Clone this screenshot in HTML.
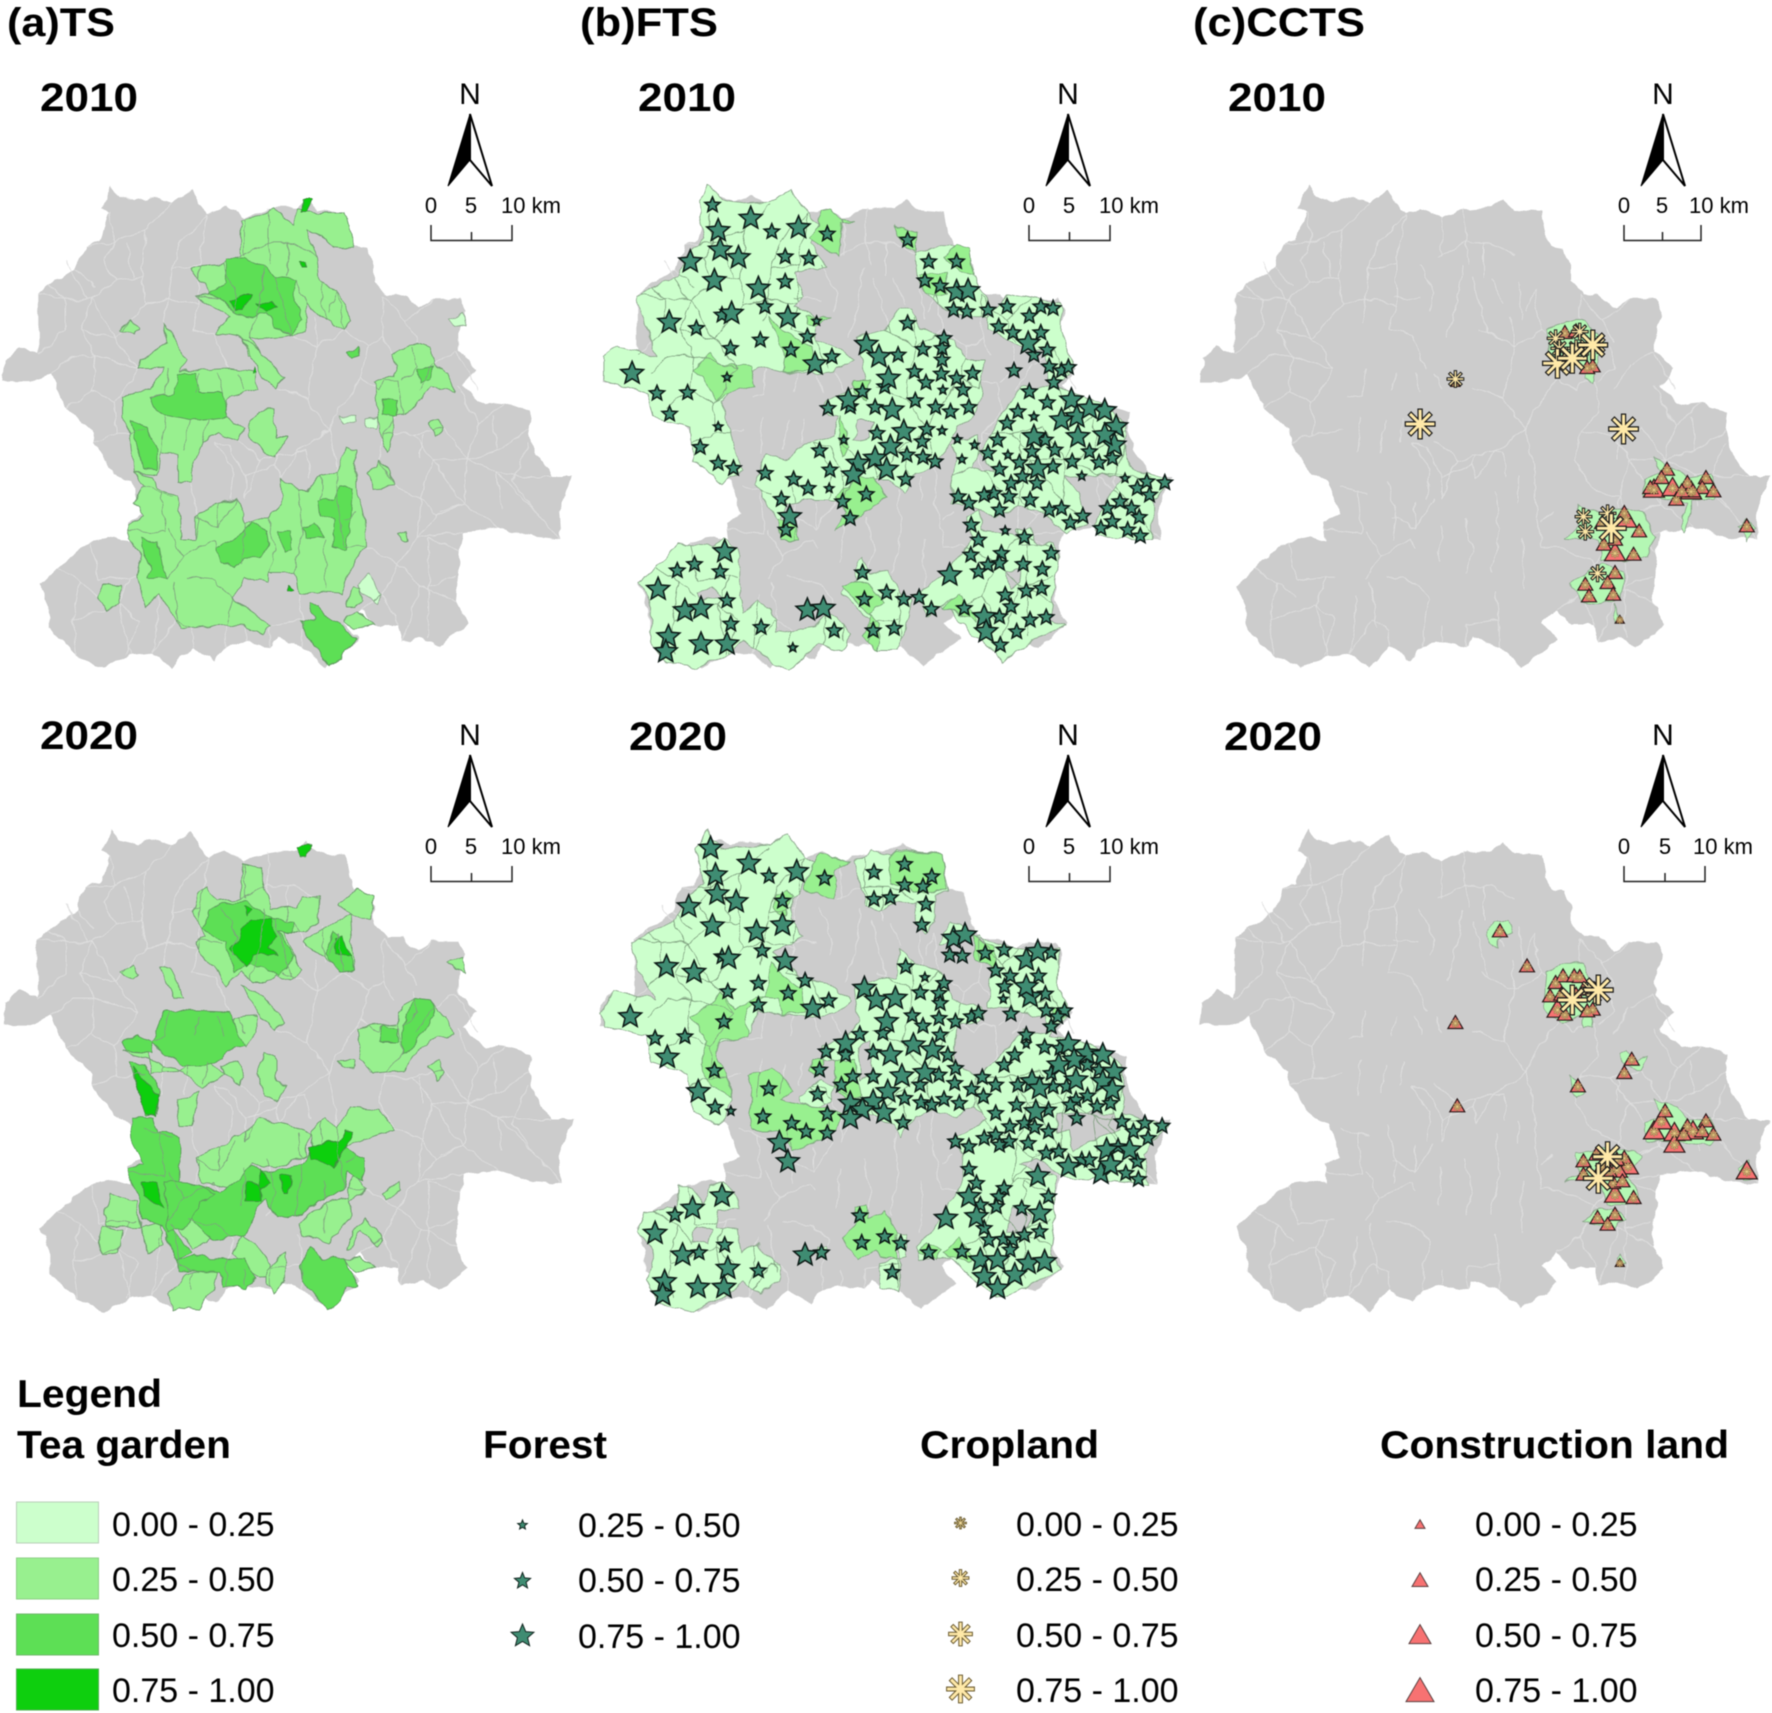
<!DOCTYPE html>
<html lang="en">
<head>
<meta charset="utf-8">
<title>TS, FTS and CCTS maps 2010 and 2020</title>
<style>
html,body{margin:0;padding:0;background:#fff;width:1772px;height:1713px;overflow:hidden}
svg{display:block;position:absolute;left:0;top:0;filter:blur(0.55px)}
text{font-family:"Liberation Sans",sans-serif;fill:#000}
.title{font-weight:bold;font-size:40px}
.year{font-weight:bold;font-size:40px}
.n{font-size:30px;text-anchor:middle}
.sc{font-size:22px}
.m{text-anchor:middle}
.lh{font-weight:bold;font-size:39px}
.lv{font-size:34px}
</style>
</head>
<body>
<svg id="chart" xmlns="http://www.w3.org/2000/svg" width="1772" height="1713" viewBox="0 0 1772 1713">
<defs>
<filter id="rough-edge" filterUnits="userSpaceOnUse" x="0" y="0" width="1772" height="1713">
<feTurbulence type="fractalNoise" baseFrequency="0.07" numOctaves="2" seed="4" result="noise"/>
<feDisplacementMap in="SourceGraphic" in2="noise" scale="8" xChannelSelector="R" yChannelSelector="G"/>
</filter>
</defs>
<rect width="1772" height="1713" fill="#fff"/>
<g id="maps"></g>

<text class="title" x="7" y="36" textLength="108" lengthAdjust="spacingAndGlyphs">(a)TS</text>
<text class="title" x="580" y="36" textLength="138" lengthAdjust="spacingAndGlyphs">(b)FTS</text>
<text class="title" x="1193" y="36" textLength="172" lengthAdjust="spacingAndGlyphs">(c)CCTS</text>

<text class="year" x="40" y="111" textLength="98" lengthAdjust="spacingAndGlyphs">2010</text>
<text class="year" x="638" y="111" textLength="98" lengthAdjust="spacingAndGlyphs">2010</text>
<text class="year" x="1228" y="111" textLength="98" lengthAdjust="spacingAndGlyphs">2010</text>
<text class="year" x="40" y="749" textLength="98" lengthAdjust="spacingAndGlyphs">2020</text>
<text class="year" x="629" y="750" textLength="98" lengthAdjust="spacingAndGlyphs">2020</text>
<text class="year" x="1224" y="750" textLength="98" lengthAdjust="spacingAndGlyphs">2020</text>

<g>
<text class="n" x="470" y="104">N</text>
<polygon points="470,114 448,186 470,160" fill="#000" stroke="#000" stroke-width="1"/><polygon points="470,114 492,186 470,160" fill="#fff" stroke="#000" stroke-width="2"/>
<text class="sc m" x="431" y="213">0</text><text class="sc m" x="471" y="213">5</text><text class="sc" x="501" y="213">10 km</text>
<path d="M431,225V240.500H512V225M471.500,232V240.500" fill="none" stroke="#222" stroke-width="1.500"/>
</g>
<g transform="translate(0,641)">
<text class="n" x="470" y="104">N</text>
<polygon points="470,114 448,186 470,160" fill="#000" stroke="#000" stroke-width="1"/><polygon points="470,114 492,186 470,160" fill="#fff" stroke="#000" stroke-width="2"/>
<text class="sc m" x="431" y="213">0</text><text class="sc m" x="471" y="213">5</text><text class="sc" x="501" y="213">10 km</text>
<path d="M431,225V240.500H512V225M471.500,232V240.500" fill="none" stroke="#222" stroke-width="1.500"/>
</g>
<g transform="translate(598,0)">
<text class="n" x="470" y="104">N</text>
<polygon points="470,114 448,186 470,160" fill="#000" stroke="#000" stroke-width="1"/><polygon points="470,114 492,186 470,160" fill="#fff" stroke="#000" stroke-width="2"/>
<text class="sc m" x="431" y="213">0</text><text class="sc m" x="471" y="213">5</text><text class="sc" x="501" y="213">10 km</text>
<path d="M431,225V240.500H512V225M471.500,232V240.500" fill="none" stroke="#222" stroke-width="1.500"/>
</g>
<g transform="translate(598,641)">
<text class="n" x="470" y="104">N</text>
<polygon points="470,114 448,186 470,160" fill="#000" stroke="#000" stroke-width="1"/><polygon points="470,114 492,186 470,160" fill="#fff" stroke="#000" stroke-width="2"/>
<text class="sc m" x="431" y="213">0</text><text class="sc m" x="471" y="213">5</text><text class="sc" x="501" y="213">10 km</text>
<path d="M431,225V240.500H512V225M471.500,232V240.500" fill="none" stroke="#222" stroke-width="1.500"/>
</g>
<g transform="translate(1193,0)">
<text class="n" x="470" y="104">N</text>
<polygon points="470,114 448,186 470,160" fill="#000" stroke="#000" stroke-width="1"/><polygon points="470,114 492,186 470,160" fill="#fff" stroke="#000" stroke-width="2"/>
<text class="sc m" x="431" y="213">0</text><text class="sc m" x="469" y="213">5</text><text class="sc" x="496" y="213">10 km</text>
<path d="M431,225V240.500H508V225M469.500,232V240.500" fill="none" stroke="#222" stroke-width="1.500"/>
</g>
<g transform="translate(1193,641)">
<text class="n" x="470" y="104">N</text>
<polygon points="470,114 448,186 470,160" fill="#000" stroke="#000" stroke-width="1"/><polygon points="470,114 492,186 470,160" fill="#fff" stroke="#000" stroke-width="2"/>
<text class="sc m" x="431" y="213">0</text><text class="sc m" x="472" y="213">5</text><text class="sc" x="500" y="213">10 km</text>
<path d="M431,225V240.500H512V225M472,232V240.500" fill="none" stroke="#222" stroke-width="1.500"/>
</g>

<g id="legend">
<text class="lh" x="17" y="1407" textLength="145" lengthAdjust="spacingAndGlyphs">Legend</text>
<text class="lh" x="17" y="1458" textLength="214" lengthAdjust="spacingAndGlyphs">Tea garden</text>
<text class="lh" x="483" y="1458" textLength="124" lengthAdjust="spacingAndGlyphs">Forest</text>
<text class="lh" x="920" y="1458" textLength="179" lengthAdjust="spacingAndGlyphs">Cropland</text>
<text class="lh" x="1380" y="1458" textLength="349" lengthAdjust="spacingAndGlyphs">Construction land</text>

<rect x="16.500" y="1502" width="82" height="41" fill="#ccffcc" stroke="#b8cfb8" stroke-width="1"/>
<rect x="16.500" y="1558" width="82" height="41" fill="#98f08f" stroke="#8ccf85" stroke-width="1"/>
<rect x="16.500" y="1614" width="82" height="41" fill="#5ddf55" stroke="#6fb86a" stroke-width="1"/>
<rect x="16.500" y="1669" width="82" height="41" fill="#0ecf0e" stroke="#4fae4f" stroke-width="1"/>
<text class="lv" x="112" y="1536">0.00 - 0.25</text>
<text class="lv" x="112" y="1591">0.25 - 0.50</text>
<text class="lv" x="112" y="1647">0.50 - 0.75</text>
<text class="lv" x="112" y="1702">0.75 - 1.00</text>

<text class="lv" x="578" y="1537">0.25 - 0.50</text>
<text class="lv" x="578" y="1592">0.50 - 0.75</text>
<text class="lv" x="578" y="1648">0.75 - 1.00</text>

<text class="lv" x="1016" y="1536">0.00 - 0.25</text>
<text class="lv" x="1016" y="1591">0.25 - 0.50</text>
<text class="lv" x="1016" y="1647">0.50 - 0.75</text>
<text class="lv" x="1016" y="1702">0.75 - 1.00</text>

<text class="lv" x="1475" y="1536">0.00 - 0.25</text>
<text class="lv" x="1475" y="1591">0.25 - 0.50</text>
<text class="lv" x="1475" y="1647">0.50 - 0.75</text>
<text class="lv" x="1475" y="1702">0.75 - 1.00</text>
</g>
</svg>

<script>
// ---- Shared base map, in map units ----
var countyOutline = [265,480,290,430,310,455,355,465,400,455,450,470,500,440,520,470,545,495,590,480,640,505,690,485,730,480,770,480,800,460,830,485,900,490,910,540,925,570,960,575,975,610,975,645,1010,680,1050,680,1090,710,1130,690,1200,690,1215,720,1195,770,1195,810,1245,850,1205,890,1265,935,1320,930,1385,950,1380,990,1395,1040,1440,1100,1495,1100,1460,1180,1465,1245,1400,1240,1300,1215,1210,1225,1200,1270,1190,1390,1220,1440,1150,1490,1100,1470,1050,1480,1040,1440,980,1440,940,1405,900,1435,940,1475,900,1500,850,1535,790,1490,720,1470,705,1490,640,1480,590,1490,560,1520,500,1490,450,1540,400,1505,340,1510,270,1540,200,1510,130,1450,130,1400,105,1350,150,1310,240,1250,300,1240,340,1250,335,1205,375,1185,345,1110,300,1090,245,1020,240,990,175,940,135,860,80,880,10,880,15,830,50,800,100,820,100,680,130,660,200,620,225,565,260,555,285,490];
var townBoundaries = [
[285,490,300,560,270,600,300,650,240,690,210,760,250,820,240,900,300,930,305,1000],[100,680,170,690,240,690],[135,860,190,820,250,820],[300,650,370,640,380,700,440,690,450,620,520,610],[300,560,380,530,450,470],[380,530,370,640],[450,620,470,560,545,495],[210,760,300,780,345,735],[300,930,360,850],[440,690,430,745],[520,700,500,760,560,770],[730,1050,800,1040,810,1100],[500,1110,520,1200,510,1245],[560,1020,610,1080,600,1150],[620,1015,680,1060,640,1150],[750,900,800,920,830,800,820,730],[800,920,860,990,780,1040,730,1105],[860,990,880,1090],[900,760,960,800,945,870,990,900],[945,870,880,950,860,990],[1000,680,1000,780,1025,820],[1135,840,1190,810],[1195,890,1250,980,1220,1060,1300,1090,1380,1100,1440,1100],[1220,1060,1210,1160,1300,1215],[1160,985,1220,1060],[1080,1000,1130,1060,1210,1160],[1030,1120,1100,1150,1130,1060],[1100,1150,1090,1240,1040,1300,1100,1350,1190,1390],[1090,1240,1210,1225],[1040,1300,950,1260],[1100,1350,1050,1480],[1000,1370,1040,1440],[1380,990,1300,1040,1220,1060],[150,1310,210,1340,190,1430,200,1510],[210,1340,255,1380],[240,1250,260,1340],[310,1395,340,1510],[460,1430,400,1505],[640,1445,640,1480],[705,1440,790,1430],[500,1450,500,1490],[780,1365,790,1430],[630,590,700,560,770,560,830,590],[700,480,700,560,710,610],[750,560,750,640],[640,505,640,590],[580,610,620,680,610,720],[690,615,680,700,650,780],[720,640,760,770],[770,645,800,700],[510,685,580,690],[840,650,850,740],[880,670,860,720],[440,850,430,910,395,915],[520,860,510,905],[570,860,585,905],[620,860,640,900],[495,970,480,1040],[430,960,420,1045],[540,965,530,1020],[380,990,340,1000],[375,1120,450,1140],[420,1130,430,1230,335,1220],[440,1220,480,1280,440,1335],[480,1280,560,1245],[490,1330,560,1340,610,1380],[560,1245,570,1265],[640,1210,630,1300],[510,1190,570,1220,620,1150],[570,1160,570,1220],[700,1190,720,1270,700,1320],[780,1130,790,1220,770,1320],[850,1240,850,1360],[840,1100,840,1155],[880,1090,880,1150,900,1260],[930,1180,900,1200],[450,1340,470,1450],[1000,880,1040,880,1050,950,1000,1000],[1080,800,1090,850,1050,880],[1130,840,1090,900],[590,1440,610,1380],[1100,1000,1100,1060],[600,1030,640,1100,720,1070],[1290,960,1300,1040],[1380,1020,1340,1110,1400,1180],[1300,1090,1310,1170],[200,620,250,660],[130,660,170,690],[330,1510,360,1430,310,1395],[100,820,170,760],[170,600,230,690],[1150,1180,1210,1160],[1120,1240,1120,1470],[350,640,330,560],
[1000,680,1060,740,1130,690],[1060,740,1090,790],[1190,810,1250,900],[1250,980,1320,930],[1130,1060,1220,1060],[1210,1160,1140,1190,1100,1150],[1300,1090,1400,1180,1465,1245],[1090,1240,1140,1190],[1120,1240,1200,1270],[1120,1350,1190,1330],[1040,1300,1000,1370,940,1405],[950,1260,900,1260],[1000,1000,1080,1000,1160,985],[1000,1000,990,1060],[990,900,1000,880],[1030,1120,990,1060],[960,800,1000,780],[900,760,880,670],[830,800,900,760],[750,900,720,895],[600,1030,560,1020],[720,1070,730,1105],[640,1100,640,1150],[730,1050,720,1070],[190,1430,310,1395],[260,1340,340,1330,360,1330],[340,1330,310,1395],[400,1505,420,1370],[500,1450,460,1430],[590,1490,590,1440],[705,1440,705,1490],[790,1430,790,1490],[240,900,175,940],[305,1000,245,1020],[305,1000,340,1000],[240,690,300,780],[360,850,300,780],[380,700,345,735],[170,690,170,760],[250,820,360,850],[225,565,300,560],[520,610,545,495],[440,690,520,700],[520,610,520,700],[560,770,600,850],[830,800,740,760],[680,1060,730,1050]
];

// ---- (a) Tea garden regions: one vertex list per town, in map units ----
var tea2010Low = [[1170,735,1210,725,1215,755,1190,750],[1035,860,1070,860,1060,880,1040,875],[950,965,990,960,985,990,960,985],[935,1350,965,1325,1000,1370,990,1390,950,1370],[885,960,930,960,925,975,900,975]];
var tea2010Mid = [[630,510,670,500,720,480,770,520,770,480,800,490,850,490,900,490,925,575,870,570,840,545,800,530,830,590,835,650,880,670,920,740,900,760,850,740,800,700,800,765,730,775,650,780,680,810,650,825,630,780,565,770,600,730,510,685,550,680,500,615,580,610,630,590],[630,780,680,810,745,870,720,895,680,860,660,830],[310,760,345,735,365,760,345,775],[430,745,450,770,485,830,470,855,600,850,670,860,670,900,590,920,590,960,640,985,620,1015,570,1000,530,1020,500,1080,500,1110,465,1110,465,1045,420,1045,415,1095,350,1090,340,1000,320,960,320,915,355,900,390,900,430,850,360,850,365,830,420,805,440,790],[650,970,690,945,720,945,720,1010,750,1010,720,1055,690,1045,650,1000],[350,1090,400,1100,410,1125,465,1140,475,1245,510,1245,510,1190,560,1160,620,1150,640,1190,640,1210,700,1190,735,1160,730,1105,780,1130,800,1130,840,1100,880,1090,900,1030,930,1040,930,1120,950,1180,955,1260,920,1300,910,1330,890,1370,780,1365,770,1320,700,1320,700,1340,640,1335,610,1380,705,1440,690,1465,640,1445,590,1440,540,1445,470,1450,460,1430,420,1370,380,1400,360,1330,370,1280,335,1240,335,1210,375,1190,350,1160,375,1120],[255,1380,270,1350,320,1350,310,1395,280,1405],[990,1060,1010,1075,1030,1120,980,1125,955,1090,985,1075],[1025,820,1090,790,1125,800,1135,840,1170,860,1185,905,1130,890,1075,945,1030,960,1030,1000,1010,1040,995,1010,990,950,980,880,1030,870,1040,840],[1120,975,1145,965,1160,985,1140,1005],[905,1400,925,1355,945,1360,945,1385,920,1400],[900,1430,930,1410,980,1440,930,1450],[1040,1230,1060,1225,1065,1245,1050,1245]];
var tea2010High = [[590,600,640,595,690,615,720,640,770,645,770,690,790,740,760,770,720,755,700,720,650,730,610,720,580,690,545,680,590,650],[395,915,460,910,465,860,510,860,520,905,585,905,590,960,540,965,495,970,440,960,410,945],[340,970,385,985,410,1040,410,1085,375,1080,360,1030],[835,1155,870,1150,890,1120,920,1125,915,1190,905,1270,870,1260,875,1205,840,1190],[570,1265,630,1230,660,1205,700,1225,705,1250,680,1285,640,1285,610,1310,580,1295],[730,1225,760,1225,760,1270,740,1270],[790,1220,825,1205,845,1235,800,1240],[370,1240,410,1250,420,1300,440,1335,385,1335,395,1310,375,1280],[1000,920,1040,925,1040,960,1000,955],[1090,855,1135,845,1120,875,1095,880],[810,1390,830,1395,850,1420,900,1445,935,1475,900,1500,890,1520,860,1535,790,1450,785,1435,820,1425],[910,815,935,800,940,820,920,825]];
var tea2010Top = [[600,695,640,680,660,680,630,715,615,715],[670,700,710,695,725,710,700,715],[790,460,815,460,800,490,785,490],[660,845,670,860,660,865],[785,605,800,605,800,618,788,618],[750,1350,765,1360,750,1365]];

var tea2020Low = [[955,905,990,900,985,935,965,930]];
var tea2020Mid = [[515,510,540,490,570,525,630,520,635,435,680,445,710,545,780,540,790,515,832,515,830,575,800,600,740,600,790,690,760,715,720,700,690,720,660,720,630,690,590,730,560,680,530,660,510,620,540,610,505,550],[890,530,935,495,975,510,970,565,920,565,890,535],[870,580,915,560,920,640,925,690,890,695,850,660,795,625,830,590],[1170,670,1210,660,1215,695,1185,685],[310,695,350,675,362,700,345,715],[420,685,445,680,480,755,455,755],[630,725,680,745,745,810,720,835,680,800,650,750],[610,800,670,795,670,840,640,875,610,840],[320,880,385,885,395,935,460,930,490,915,530,900,590,935,530,975,475,930],[580,915,625,905,640,945,625,965,590,935],[670,935,695,885,720,895,720,955,750,965,720,1000,695,985],[460,1000,520,980,500,1060,465,1060,470,1030],[510,1135,600,1100,680,1040,770,1060,810,1080,800,1130,720,1160,660,1150,620,1210,560,1200,530,1195],[455,1290,500,1260,545,1290,570,1300,545,1335,500,1350],[500,1240,550,1220,590,1275,540,1300,500,1260],[270,1270,285,1220,355,1240,370,1300,280,1300],[255,1320,270,1300,320,1310,310,1360,265,1365],[370,1300,420,1290,430,1340,380,1360],[605,1360,630,1320,665,1340,705,1385,700,1420,650,1410],[440,1460,490,1410,570,1400,560,1440,520,1495,470,1490,450,1500],[695,1400,745,1360,745,1430,720,1460,695,1430],[780,1290,820,1260,850,1240,910,1230,915,1280,880,1310,860,1340,790,1320],[905,1210,930,1170,955,1210,910,1240],[905,1350,930,1300,955,1280,1000,1330,985,1345,940,1310,915,1350],[900,1375,940,1370,980,1395,930,1410],[995,1220,1040,1190,1050,1215,1010,1235],[810,1075,850,1040,880,1060,920,1015,990,1020,1030,1070,950,1090,900,1110,820,1110],[935,830,975,820,1040,815,1040,790,1085,755,1125,760,1140,790,1170,800,1185,845,1140,850,1090,880,1050,930,975,935,945,900],[885,905,930,905,925,925,900,920],[1120,915,1145,905,1160,930,1140,950]];
var tea2020High = [[395,860,430,785,600,790,640,870,590,880,580,900,530,915,480,915,420,880],[320,860,360,845,395,860,400,885,330,880],[340,905,385,925,415,970,410,1030,380,1035,360,970],[345,1040,400,1040,410,1075,450,1075,470,1105,470,1200,500,1195,555,1210,575,1220,640,1170,660,1155,700,1170,790,1150,810,1120,900,1110,950,1140,950,1190,905,1170,900,1210,830,1240,790,1270,720,1280,690,1230,670,1260,640,1320,560,1330,535,1310,490,1270,460,1290,440,1300,500,1360,460,1380,430,1300,370,1280,360,1220,335,1190,335,1160,375,1150,350,1110],[430,1190,520,1200,560,1220,520,1240,490,1300,440,1310],[590,530,640,525,710,570,770,575,760,600,730,600,770,660,730,700,700,690,650,670,610,690,590,620,530,590,545,550],[870,600,910,640,925,690,885,695,850,650],[1000,820,1040,830,1040,860,990,860],[1050,820,1085,755,1125,760,1135,800,1090,860,1050,890],[460,1380,510,1365,550,1375,580,1375,640,1375,665,1420,640,1445,580,1440,575,1405,470,1405],[785,1390,815,1345,840,1375,900,1375,935,1440,900,1445,890,1470,850,1495,790,1425]];
var tea2020Top = [[630,590,660,570,705,570,725,610,700,635,725,655,690,650,660,650,640,680,605,640,625,620],[870,615,890,605,915,655,880,650],[350,920,385,960,415,990,405,1035,380,1030,360,970],[810,1110,860,1095,885,1100,900,1070,920,1075,905,1110,870,1160,830,1145,810,1140],[640,1195,680,1200,680,1240,640,1240],[680,1160,705,1195,680,1205],[730,1180,760,1175,755,1220,745,1220],[370,1195,410,1195,425,1255,395,1235,375,1220],[635,540,660,545,650,560],[775,395,815,390,800,420,785,420]];

// ---- (b) Forest regions ----
var forest2010Low = [[285,125,310,75,340,120,400,130,470,125,525,90,560,150,600,195,575,250,620,320,560,330,535,340,560,410,530,440,590,470,590,540,660,570,690,600,640,635,590,640,505,635,440,620,340,720,360,780,385,900,400,930,345,970,270,900,265,800,165,770,150,700,60,670,35,660,35,590,70,560,175,590,130,450,120,410,230,345,260,270,300,240],[130,1270,190,1200,230,1150,320,1160,350,1135,390,1170,390,1270,400,1360,440,1320,490,1380,490,1420,510,1415,590,1400,620,1360,685,1420,660,1470,600,1455,520,1530,470,1500,400,1440,370,1480,280,1525,200,1510,155,1440,160,1340],[620,720,700,680,720,660,700,530,770,510,810,440,840,450,860,500,950,540,980,600,1030,600,1020,700,1005,770,960,800,920,880,900,920,850,940,820,1000,780,960,730,960,680,1000,640,1020,570,1020,510,1030,495,1090,430,970,460,880,510,900,560,850,630,830,650,770,610,760],[940,850,1010,830,1020,880,970,980,975,1030,945,1030,945,950,960,880],[1040,470,1095,400,1180,420,1230,430,1230,510,1265,625,1210,680,1290,710,1350,740,1400,790,1400,890,1420,930,1520,960,1470,1030,1470,1140,1330,1130,1320,1090,1350,1020,1390,960,1340,940,1240,950,1280,1000,1300,1090,1240,1120,1190,1060,1120,1040,1060,1070,1000,1040,950,1030,945,950,990,920,1060,940,1020,880,1070,770,1130,680,1200,680,1190,570,1140,570,1040,510],[795,200,855,215,850,280,890,260,960,260,990,270,1000,350,1040,420,1040,470,980,470,930,450,880,400,855,360,850,280],[985,1070,1020,1050,1020,1110,1100,1120,1150,1160,1210,1150,1225,1200,1200,1380,1240,1400,1170,1430,1075,1510,1060,1470,1000,1430,940,1350,920,1340,970,1300,880,1370,860,1300,920,1250,970,1180,1000,1130],[690,1230,710,1195,730,1240,780,1230,810,1300,840,1320,830,1400,800,1470,750,1470,710,1430,730,1380,660,1300,700,1260],[1110,1110,1150,1105,1165,1160,1120,1150]];
var forest2010Holes = [[280,1300,320,1280,340,1310,290,1320],[700,780,740,780,730,830,690,840],[1085,1235,1120,1230,1130,1270,1095,1285]];
var forest2010Mid = [[270,630,315,580,330,610,420,620,430,680,350,700,330,720],[465,470,500,510,575,560,590,630,505,635,510,590],[600,150,630,145,650,175,690,185,660,190,650,290,570,230,600,200],[565,470,630,470,590,495,570,490],[655,770,680,860,660,890,645,840],[640,1010,700,950,740,950,775,1010,720,1060,640,1110,670,1060],[490,1075,540,1090,545,1140,495,1140],[690,660,730,660,720,720,690,700],[660,1280,700,1265,740,1280,770,1330,730,1360,760,1400,750,1470,710,1430,735,1370],[925,1345,965,1300,1000,1350,1010,1385,960,1360],[795,200,855,215,850,270,820,260],[925,290,960,255,990,270,1000,345,950,320],[860,350,930,340,930,400,880,400]];

var forest2020Low = [[280,90,305,30,340,85,400,80,470,75,515,40,560,110,590,130,560,190,530,240,525,300,555,350,530,370,480,395,560,480,620,490,680,545,640,580,580,590,500,585,440,570,420,640,340,670,330,710,355,760,375,840,335,920,270,870,255,760,160,730,150,650,40,620,25,580,65,510,170,540,120,440,110,365,220,300,260,220,295,190],[545,830,600,780,640,800,630,850,590,860,550,850],[610,680,680,640,700,610,690,500,740,480,800,470,810,390,850,430,920,460,950,540,1020,560,1030,600,960,620,950,720,1010,770,1000,860,960,890,890,870,850,890,810,950,790,910,720,880,660,880,700,780,640,720,610,720],[1040,500,1060,440,1020,340,910,380,940,300,1000,340,1060,370,1130,395,1225,390,1220,500,1255,570,1200,650,1280,660,1390,730,1395,880,1510,915,1450,1000,1460,1095,1340,1080,1240,1075,1170,1020,1120,1030,1215,1070,1215,1190,1200,1300,1230,1350,1090,1430,1060,1430,1000,1380,940,1310,860,1320,855,1275,900,1230,940,1150,970,1100,975,1000,945,960,1040,900,1000,860,1010,770,1080,700,1130,630,1200,640,1190,590,1090,570,1040,560],[685,125,740,90,790,110,800,90,920,105,940,215,905,220,900,300,875,345,850,310,850,250,800,245,760,270,720,260,705,180],[120,1240,140,1180,225,1165,230,1100,270,1100,295,1150,310,1100,350,1085,385,1130,385,1170,335,1170,330,1220,385,1225,395,1300,440,1270,495,1340,495,1380,440,1420,400,1385,360,1420,275,1475,180,1450,150,1380,170,1290],[755,1330,830,1310,830,1240,800,1240,810,1330,810,1420,760,1400],[590,1280,620,1280,615,1315,590,1310]];
var forest2020Holes = [[1220,880,1370,880,1385,930,1300,970,1260,990,1250,930,1220,940],[280,1220,320,1230,310,1270,270,1260],[700,680,730,660,740,750,710,780],[1100,1160,1150,1180,1140,1240,1090,1240]];
var forest2020Mid = [[600,100,640,110,675,125,640,150,640,240,560,205,590,120],[265,590,320,550,340,520,380,565,430,530,490,535,500,585,560,575,555,510,510,470,470,430,460,530,410,565,415,650,340,660,330,700,355,760,370,830,320,800,285,730,310,660,270,600],[480,220,510,210,530,230,510,290,480,260],[410,770,480,740,525,810,500,840,520,850,590,860,660,880,640,930,600,960,530,995,500,940,470,930,420,930,415,880,425,830],[580,720,610,720,590,770,575,750],[640,720,690,720,710,830,670,840,640,800],[780,120,800,95,920,105,935,210,850,215,790,190],[1005,340,1030,370,1060,385,1060,440,1005,420],[690,1160,720,1150,725,1195,770,1175,800,1240,800,1320,760,1310,750,1290,700,1320,660,1260,700,1200],[855,1290,880,1270,915,1290,900,1320],[920,1300,965,1250,1000,1310,990,1330,950,1310],[1210,560,1250,570,1225,600,1210,590]];

// ---- (b) Forest star points per size class ----
var forestStars2010Large = [[420,175],[335,212],[340,270],[388,293],[262,305],[325,362],[440,385],[207,487],[370,460],[517,472],[110,640],[588,612],[545,203],[722,553],[755,590],[780,655],[790,750],[675,720],[820,815],[785,860],[745,895],[700,910],[688,945],[775,928],[522,1070],[1145,550],[958,395],[988,392],[1258,720],[1272,770],[1232,780],[1345,752],[1305,745],[1375,800],[1370,855],[1345,825],[1160,830],[1275,830],[1170,925],[178,1288],[352,1175],[248,1352],[290,1345],[205,1430],[290,1452],[358,1452],[198,1475],[568,1350],[610,1345],[940,1245],[1030,1370],[1035,1415]];
var forestStars2010Medium = [[320,135],[475,215],[620,222],[510,290],[572,295],[510,365],[457,440],[345,465],[278,505],[568,530],[445,540],[367,565],[525,570],[632,590],[175,700],[255,698],[208,762],[288,862],[335,910],[375,925],[458,940],[532,958],[570,985],[500,1018],[622,745],[680,740],[712,695],[745,742],[805,585],[870,568],[920,565],[925,535],[920,600],[830,490],[848,635],[878,668],[918,642],[958,655],[1000,640],[975,690],[850,722],[903,742],[942,755],[990,742],[880,808],[868,845],[828,885],[870,892],[902,905],[825,958],[600,872],[627,930],[660,1025],[722,1003],[680,1075],[512,1110],[750,820],[770,680],[830,240],[885,305],[958,305],[875,362],[915,378],[950,450],[985,455],[1040,450],[1090,440],[1148,468],[1178,440],[1210,445],[1068,500],[1105,518],[1178,518],[1195,570],[1160,585],[1108,632],[1200,620],[1232,632],[1250,622],[1212,668],[1148,695],[1195,728],[1118,755],[1090,790],[1065,840],[1040,880],[1122,908],[1070,928],[1190,840],[1155,875],[1215,870],[1260,905],[1305,875],[1330,908],[1365,895],[1210,920],[1130,950],[1100,970],[1168,970],[1055,1000],[1030,1005],[1095,1010],[1070,1050],[962,1010],[990,1030],[1150,1020],[1200,1050],[1232,1045],[1288,1068],[1255,1088],[1352,1045],[1385,1025],[1415,1045],[1435,1072],[1365,1085],[1405,1110],[1335,1105],[1438,1128],[1430,985],[1455,965],[1502,968],[1462,1005],[996,1095],[1135,1132],[1015,1140],[995,1185],[1075,1180],[1070,1210],[1040,1215],[1015,1235],[1132,1213],[1205,1180],[1182,1228],[1140,1293],[1180,1285],[1085,1305],[1100,1340],[1070,1370],[1150,1380],[1192,1372],[1115,1415],[1072,1455],[228,1232],[273,1213],[340,1235],[358,1322],[368,1392],[447,1402],[638,1412],[712,1238],[717,1318],[775,1298],[820,1318],[860,1312],[892,1348],[978,1345],[795,1405],[740,1412]];
var forestStars2010Small = [[358,652],[335,800],[592,483],[625,985],[663,840],[922,690],[920,812],[960,838],[1005,855],[972,898],[1160,770],[1092,885],[1285,948],[1398,955],[1085,1112],[530,1463]];
var forestStars2020Large = [[315,85],[415,130],[328,165],[540,155],[332,222],[382,245],[258,260],[320,318],[435,335],[503,315],[200,440],[272,457],[362,415],[510,423],[105,590],[202,712],[283,815],[582,565],[717,505],[748,540],[798,535],[775,605],[845,675],[785,705],[895,690],[668,670],[815,768],[875,758],[778,815],[740,845],[680,850],[712,870],[680,895],[768,878],[495,968],[517,1025],[1155,785],[1175,805],[1140,420],[1170,395],[950,355],[980,345],[1250,672],[1298,700],[1340,705],[1265,720],[1225,735],[1370,755],[1340,785],[1365,810],[1270,780],[1165,875],[1150,530],[1140,500],[1170,1068],[1250,1040],[1335,1060],[1350,990],[1410,990],[1360,1035],[930,1195],[990,1130],[1010,1190],[1020,1320],[1065,1320],[1145,1330],[1188,1325],[1030,1370],[1065,1405],[1110,1365],[1175,1180],[170,1240],[345,1128],[268,1165],[242,1305],[360,1345],[282,1402],[350,1402],[195,1385],[190,1425],[562,1305]];
var forestStars2020Medium = [[468,168],[613,175],[503,243],[742,157],[822,133],[822,195],[893,170],[870,200],[742,238],[785,233],[878,253],[867,315],[450,392],[345,410],[440,490],[360,515],[518,520],[440,555],[350,605],[624,542],[562,482],[170,655],[248,650],[325,752],[327,862],[595,823],[600,750],[467,806],[452,890],[527,910],[565,935],[620,940],[620,882],[705,643],[617,695],[668,705],[687,770],[657,795],[740,697],[765,640],[740,770],[825,440],[925,490],[912,520],[915,550],[863,518],[842,587],[870,618],[912,595],[955,605],[915,645],[997,590],[1015,580],[1100,582],[935,705],[955,745],[912,765],[862,795],[953,790],[997,808],[822,835],[865,848],[893,855],[925,838],[965,850],[818,908],[940,405],[973,408],[1033,400],[1082,390],[1205,398],[1060,452],[1098,468],[1172,468],[1083,500],[1190,522],[1192,572],[1240,572],[1205,620],[1222,590],[1140,645],[1188,682],[1228,685],[1110,705],[1082,735],[1025,772],[1060,795],[1118,795],[1205,760],[1300,735],[1330,750],[1210,800],[1270,840],[1255,855],[1300,828],[1325,860],[1360,850],[1028,830],[1060,880],[1115,855],[1198,870],[1245,800],[1135,910],[1097,920],[1162,922],[1198,935],[1272,895],[1390,905],[1450,910],[1420,935],[1495,918],[1458,955],[955,965],[990,980],[1030,955],[1060,945],[1095,965],[1070,975],[1145,970],[1192,1000],[1225,995],[1285,1020],[1305,1020],[1380,980],[1430,1025],[1400,1060],[1433,1078],[990,1048],[1010,1090],[1082,1105],[1068,1130],[1020,1155],[1062,1160],[1128,1165],[1198,1130],[1030,1225],[1042,1260],[1080,1258],[1105,1260],[1135,1245],[1175,1235],[1098,1290],[222,1185],[285,1298],[352,1275],[440,1352],[705,1187],[770,1250],[812,1270],[710,1268],[885,1298],[972,1295],[790,1357],[605,1298]];
var forestStars2020Small = [[368,873],[875,472],[1080,537],[1140,672]];

// ---- (c) Construction-land regions, triangles and cropland points ----
var built2010Regions = [[965,85,1010,60,1060,60,1100,100,1120,130,1100,170,1090,215,1085,250,1060,235,1065,200,990,200,965,150],[1250,470,1290,500,1340,530,1400,520,1425,580,1410,600,1350,600,1350,640,1330,700,1320,680,1340,610,1270,590,1220,590,1225,540,1270,520],[1040,615,1110,640,1170,620,1220,635,1255,710,1230,770,1190,780,1110,780,1100,720,1010,715,1050,680,1040,650],[1020,850,1070,820,1110,790,1165,810,1170,850,1160,900,1100,910,1050,905,1040,870],[1480,680,1500,655,1525,685,1505,725,1490,700],[1140,910,1150,940,1170,970,1145,970]];
var built2020Regions = [[800,100,820,60,860,60,870,100,830,115,830,145,810,125],[960,215,1000,190,1060,190,1075,240,1105,280,1090,330,1085,385,1060,380,1060,340,1000,370,960,340,955,290],[1160,460,1180,450,1200,480,1235,465,1215,510,1190,500,1165,490],[1025,525,1050,550,1060,575,1045,590,1030,570],[1250,600,1310,620,1340,660,1400,650,1425,710,1400,735,1330,730,1230,720,1225,670,1270,640],[1040,760,1100,745,1200,760,1218,770,1180,830,1210,880,1210,910,1120,910,1100,840,1010,845,1050,820],[1060,960,1100,930,1140,920,1175,960,1140,990,1110,975],[1480,810,1500,785,1525,830,1490,835],[1150,1080,1160,1065,1170,1095,1155,1105]];
var builtTri2010Large = [[1250,570],[1300,565],[1145,760],[1350,575],[1175,660]];
var builtTri2010Medium = [[1285,510],[1270,535],[1240,565],[1310,600],[1340,550],[1390,535],[1380,565],[1410,575],[1355,575],[1325,575],[1170,640],[1115,735],[1145,720],[1195,765],[1210,695],[1110,670],[1145,820],[1125,850],[1065,855],[1075,890],[1140,885],[1085,200],[1070,205],[1010,100],[1040,95],[1500,680]];
var builtTri2010Small = [[715,250],[1158,960]];
var crop2010Large = [[620,372],[1168,387],[990,190],[1030,175],[1135,685],[1085,135]];
var crop2010Medium = [[715,237],[985,115],[995,145],[1040,145],[1060,650],[1065,695],[1125,640],[1098,820],[1070,140],[1050,95],[1100,135]];
var builtTri2020Large = [[990,330],[1250,695],[1305,700],[1355,695],[1270,665],[1305,735],[1145,885],[1180,800],[1500,815],[1150,810]];
var builtTri2020Medium = [[835,95],[908,200],[715,370],[720,620],[1170,520],[1190,480],[1045,560],[1280,635],[1340,680],[1390,665],[1380,695],[1410,705],[1330,705],[1010,345],[985,250],[1005,230],[1035,230],[1050,232],[970,290],[1000,285],[1040,285],[1085,330],[1070,335],[1060,270],[1060,785],[1095,765],[1060,825],[1170,775],[1110,800],[1130,815],[1150,780],[1140,850],[1165,845],[1195,895],[1098,955],[1145,945],[1125,975]];
var builtTri2020Small = [[1158,1090]];
var crop2020Large = [[1100,270],[1030,300],[1125,770],[1100,835]];
var crop2020Medium = [[1075,265],[1090,285]];

// ---- Drawing ----
var SVGNS = 'http://www.w3.org/2000/svg';
var mapsLayer = document.getElementById('maps');
var legendLayer = document.getElementById('legend');

function baseX(panel, u) { return panel.dx + u / 2.613; }
function baseY(panel, v) { return panel.dy + v / 2.306; }
function axisX(panel, u) { return panel.x0 + u / panel.kx; }
function axisY(panel, v) { return panel.y0 + v / panel.ky; }

function make(tag, parent) {
  var el = document.createElementNS(SVGNS, tag);
  parent.appendChild(el);
  return el;
}
function ptsBase(panel, list) {
  var s = [];
  for (var i = 0; i < list.length; i += 2) s.push(baseX(panel, list[i]).toFixed(1) + ',' + baseY(panel, list[i + 1]).toFixed(1));
  return s.join(' ');
}
function ptsAxis(panel, list) {
  var s = [];
  for (var i = 0; i < list.length; i += 2) s.push(axisX(panel, list[i]).toFixed(1) + ',' + axisY(panel, list[i + 1]).toFixed(1));
  return s.join(' ');
}
function starPts(cx, cy, R) {
  var s = [];
  for (var i = 0; i < 10; i++) {
    var r = i % 2 ? R * 0.45 : R, a = -Math.PI / 2 + i * Math.PI / 5;
    s.push((cx + r * Math.cos(a)).toFixed(1) + ',' + (cy + r * Math.sin(a)).toFixed(1));
  }
  return s.join(' ');
}
function cropPts(cx, cy, R) {
  var s = [], d = 0.14;
  for (var i = 0; i < 8; i++) {
    var a = -Math.PI / 2 + i * Math.PI / 4;
    s.push((cx + R * Math.cos(a - d)).toFixed(1) + ',' + (cy + R * Math.sin(a - d)).toFixed(1));
    s.push((cx + R * Math.cos(a + d)).toFixed(1) + ',' + (cy + R * Math.sin(a + d)).toFixed(1));
    var b = a + Math.PI / 8, r = R * 0.36;
    s.push((cx + r * Math.cos(b)).toFixed(1) + ',' + (cy + r * Math.sin(b)).toFixed(1));
  }
  return s.join(' ');
}
function triPts(cx, cy, w) {
  var h = w * 0.86;
  return cx + ',' + (cy - h * 0.6).toFixed(1) + ' ' + (cx - w / 2).toFixed(1) + ',' + (cy + h * 0.4).toFixed(1) + ' ' + (cx + w / 2).toFixed(1) + ',' + (cy + h * 0.4).toFixed(1);
}

function drawBase(panel, g) {
  var shape = make('polygon', g);
  
  
  shape.setAttribute('points', ptsBase(panel, countyOutline));
  shape.setAttribute('fill', '#cccccc');
  shape.setAttribute('stroke', '#cccccc');
  shape.setAttribute('stroke-width', '1');
  var net = make('g', g);
  
  
  townBoundaries.forEach(function (line) {
    var p = make('polyline', net);
    p.setAttribute('points', ptsBase(panel, line));
    p.setAttribute('fill', 'none');
    p.setAttribute('stroke', '#dedede');
    p.setAttribute('stroke-width', '1');
  });
}
function shapeLayer(g) {
  var s = make('g', g);
  
  
  s.setAttribute('filter', 'url(#rough-edge)');
  return s;
}
function drawRegions(panel, g, list, fill, stroke, name) {
  list.forEach(function (poly) {
    var p = make('polygon', g);
    
    
    p.setAttribute('points', ptsAxis(panel, poly));
    p.setAttribute('fill', fill);
    p.setAttribute('stroke', stroke);
    p.setAttribute('stroke-width', '0.9');
    p.setAttribute('stroke-linejoin', 'round');
  });
}
function drawInnerBoundaries(panel, g, lists) {
  var id = 'clip-' + panel.id;
  var clip = make('clipPath', g);
  clip.setAttribute('id', id);
  lists.forEach(function (list) {
    list.forEach(function (poly) {
      var c = make('polygon', clip);
      c.setAttribute('points', ptsAxis(panel, poly));
    });
  });
  var net = make('g', g);
  
  
  net.setAttribute('clip-path', 'url(#' + id + ')');
  townBoundaries.forEach(function (line) {
    var p = make('polyline', net);
    p.setAttribute('points', ptsBase(panel, line));
    p.setAttribute('fill', 'none');
    p.setAttribute('stroke', '#7f9f7f');
    p.setAttribute('stroke-width', '0.8');
  });
}
function drawStars(panel, g, list, R) {
  list.forEach(function (pt) {
    var p = make('polygon', g);
    
    
    p.setAttribute('points', starPts(axisX(panel, pt[0]), axisY(panel, pt[1]), R));
    p.setAttribute('fill', '#3f8c72');
    p.setAttribute('stroke', '#0d1a16');
    p.setAttribute('stroke-width', '1.5');
    p.setAttribute('stroke-linejoin', 'miter');
  });
}
function drawCrops(panel, g, list, R, stroke, fill, width) {
  list.forEach(function (pt) {
    var p = make('polygon', g);
    
    
    p.setAttribute('points', cropPts(axisX(panel, pt[0]), axisY(panel, pt[1]), R));
    p.setAttribute('fill', fill);
    p.setAttribute('stroke', stroke);
    p.setAttribute('stroke-width', width);
  });
}
function drawTris(panel, g, list, w) {
  list.forEach(function (pt) {
    var p = make('polygon', g);
    
    
    p.setAttribute('points', triPts(axisX(panel, pt[0]), axisY(panel, pt[1]), w));
    p.setAttribute('fill', '#f77272');
    p.setAttribute('stroke', '#2a1a1a');
    p.setAttribute('stroke-width', '1.2');
  });
}

var panelA10 = { id: 'a10', dx: 0, dy: 0, x0: 0, y0: 0, kx: 2.613, ky: 2.306 };
var panelA20 = { id: 'a20', dx: 0, dy: 643, x0: 0, y0: 680, kx: 2.613, ky: 2.376 };
var panelB10 = { id: 'b10', dx: 599, dy: 0, x0: 590, y0: 160, kx: 2.613, ky: 3 };
var panelB20 = { id: 'b20', dx: 596, dy: 643.5, x0: 590, y0: 820, kx: 2.613, ky: 3 };
var panelC10 = { id: 'c10', dx: 1197, dy: 0, x0: 1190, y0: 300, kx: 2.694, ky: 3 };
var panelC20 = { id: 'c20', dx: 1197, dy: 643, x0: 1190, y0: 900, kx: 2.694, ky: 3 };

var LOW = '#ccffcc', MID = '#98f08f', HIGH = '#5ddf55', TOP = '#0ecf0e';

function drawTea(panel, name, low, mid, high, top) {
  var g = make('g', mapsLayer);
  
  
  var s = shapeLayer(g);
  drawBase(panel, s);
  drawRegions(panel, s, low, LOW, '#8fa88f', 'tea-region-low');
  drawRegions(panel, s, mid, MID, '#6f9a6f', 'tea-region-mid');
  drawRegions(panel, s, high, HIGH, '#5f9a5f', 'tea-region-high');
  drawRegions(panel, s, top, TOP, '#3f8f3f', 'tea-region-top');
  drawInnerBoundaries(panel, s, [low, mid, high, top]);
}
function drawForest(panel, name, low, holes, mid, large, medium, small) {
  var g = make('g', mapsLayer);
  
  
  var s = shapeLayer(g);
  drawBase(panel, s);
  drawRegions(panel, s, low, LOW, '#8fa88f', 'forest-region-low');
  drawRegions(panel, s, holes, '#cccccc', '#8fa88f', 'forest-region-gap');
  drawRegions(panel, s, mid, MID, '#7fa87f', 'forest-region-mid');
  drawInnerBoundaries(panel, s, [low, mid]);
  drawStars(panel, g, small, 4.8);
  drawStars(panel, g, medium, 8);
  drawStars(panel, g, large, 12);
}
function drawBuilt(panel, name, regions, large, medium, small, cropL, cropM) {
  var g = make('g', mapsLayer);
  
  
  var s = shapeLayer(g);
  drawBase(panel, s);
  drawRegions(panel, s, regions, '#b4f7b4', '#8fa88f', 'construction-region');
  drawTris(panel, g, large, 21);
  drawTris(panel, g, medium, 15);
  drawTris(panel, g, small, 9);
  drawCrops(panel, g, medium, 4, '#a08050', '#f2d48e', '0.7');
  drawCrops(panel, g, large, 4.5, '#a08050', '#f2d48e', '0.7');
  drawCrops(panel, g, small, 3.5, '#a08050', '#f2d48e', '0.7');
  drawCrops(panel, g, cropM, 8.5, '#1a1a1a', '#ffe9a8', '1');
  drawCrops(panel, g, cropL, 15, '#1a1a1a', '#ffe9a8', '1.2');
}

drawTea(panelA10, 'tea-map-2010', tea2010Low, tea2010Mid, tea2010High, tea2010Top);
drawTea(panelA20, 'tea-map-2020', tea2020Low, tea2020Mid, tea2020High, tea2020Top);
drawForest(panelB10, 'forest-map-2010', forest2010Low, forest2010Holes, forest2010Mid, forestStars2010Large, forestStars2010Medium, forestStars2010Small);
drawForest(panelB20, 'forest-map-2020', forest2020Low, forest2020Holes, forest2020Mid, forestStars2020Large, forestStars2020Medium, forestStars2020Small);
drawBuilt(panelC10, 'construction-map-2010', built2010Regions, builtTri2010Large, builtTri2010Medium, builtTri2010Small, crop2010Large, crop2010Medium);
drawBuilt(panelC20, 'construction-map-2020', built2020Regions, builtTri2020Large, builtTri2020Medium, builtTri2020Small, crop2020Large, crop2020Medium);

// ---- Legend symbols ----
var legendForestSizes = [5, 8.5, 12];
var legendForestRows = [1525, 1581, 1636];
var legendCropSizes = [6, 8.5, 12, 14];
var legendCropRows = [1523, 1578, 1634, 1689];
var legendTriSizes = [10, 16, 22, 28];
var legendTriRows = [1525, 1581, 1636, 1692];

legendForestSizes.forEach(function (R, i) {
  var p = make('polygon', legendLayer);
  
  
  p.setAttribute('points', starPts(522.5, legendForestRows[i], R));
  p.setAttribute('fill', '#3f8c72');
  p.setAttribute('stroke', '#12251f');
  p.setAttribute('stroke-width', '1');
});
legendCropSizes.forEach(function (R, i) {
  var p = make('polygon', legendLayer);
  
  
  p.setAttribute('points', cropPts(960.5, legendCropRows[i], R));
  p.setAttribute('fill', '#ffe9a8');
  p.setAttribute('stroke', '#6a5a30');
  p.setAttribute('stroke-width', '1');
});
legendTriSizes.forEach(function (w, i) {
  var p = make('polygon', legendLayer);
  
  
  p.setAttribute('points', triPts(1420, legendTriRows[i], w));
  p.setAttribute('fill', '#f77272');
  p.setAttribute('stroke', '#5a4040');
  p.setAttribute('stroke-width', '1');
});
</script>
</body>
</html>
